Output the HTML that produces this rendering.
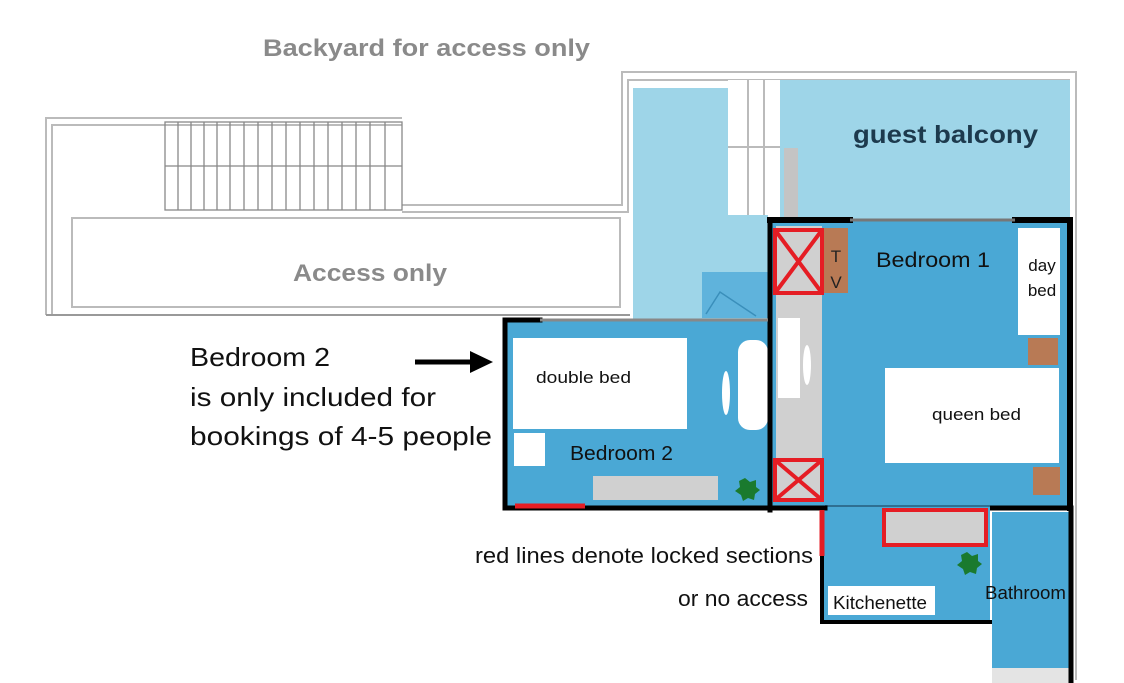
<!DOCTYPE html>
<html><head><style>
body{margin:0;background:#fff;width:1124px;height:683px;overflow:hidden}
svg{display:block}
text{font-family:"Liberation Sans",sans-serif}
</style></head><body>
<svg width="1124" height="683" viewBox="0 0 1124 683" xmlns="http://www.w3.org/2000/svg">
<g fill="none" stroke="#bbb" stroke-width="2">
<path d="M46 315 V118 H402"/>
<path d="M52 315 V125 H402"/>
<path d="M402 205 H622 V72 H1076 V680"/>
<path d="M402 212 H628 V80 H1070"/>
<rect x="72" y="218" width="548" height="89"/>
</g>
<g stroke="#888" stroke-width="1.3">
<rect x="165" y="122" width="237" height="88" fill="none"/>
<line x1="165" y1="166" x2="402" y2="166"/>
<line x1="178" y1="122" x2="178" y2="210"/><line x1="191" y1="122" x2="191" y2="210"/>
<line x1="204" y1="122" x2="204" y2="210"/><line x1="217" y1="122" x2="217" y2="210"/>
<line x1="230" y1="122" x2="230" y2="210"/><line x1="244" y1="122" x2="244" y2="210"/>
<line x1="258" y1="122" x2="258" y2="210"/><line x1="272" y1="122" x2="272" y2="210"/>
<line x1="286" y1="122" x2="286" y2="210"/><line x1="300" y1="122" x2="300" y2="210"/>
<line x1="314" y1="122" x2="314" y2="210"/><line x1="328" y1="122" x2="328" y2="210"/>
<line x1="342" y1="122" x2="342" y2="210"/><line x1="356" y1="122" x2="356" y2="210"/>
<line x1="370" y1="122" x2="370" y2="210"/><line x1="385" y1="122" x2="385" y2="210"/>
</g>
<line x1="46" y1="315" x2="630" y2="315" stroke="#999" stroke-width="2"/>
<text x="263" y="56" font-size="24" font-weight="bold" fill="#8a8a8a" textLength="327" lengthAdjust="spacingAndGlyphs">Backyard for access only</text>
<text x="293" y="281" font-size="24" font-weight="bold" fill="#8a8a8a" textLength="154" lengthAdjust="spacingAndGlyphs">Access only</text>
<rect x="633" y="88" width="135" height="232" fill="#9ed5e8"/>
<rect x="780" y="80" width="290" height="140" fill="#9ed5e8"/>
<rect x="728" y="80" width="52" height="135" fill="#fff"/>
<g stroke="#bbb" stroke-width="2"><line x1="748" y1="80" x2="748" y2="215"/><line x1="764" y1="80" x2="764" y2="215"/><line x1="728" y1="147" x2="780" y2="147"/></g>
<rect x="784" y="148" width="14" height="72" fill="#c4c4c4"/>
<text x="853" y="143" font-size="25" font-weight="bold" fill="#1d3a4d" textLength="185" lengthAdjust="spacingAndGlyphs">guest balcony</text>
<rect x="770" y="220" width="300" height="288" fill="#4aa8d5"/>
<rect x="776" y="226" width="46" height="275" fill="#d0d0d0"/>
<rect x="778" y="318" width="22" height="80" fill="#fff"/>
<ellipse cx="807" cy="365" rx="4" ry="20" fill="#fff"/>
<rect x="823" y="228" width="25" height="65" fill="#b87a55"/>
<text x="836" y="262" text-anchor="middle" font-size="17" fill="#222">T</text>
<text x="836" y="288" text-anchor="middle" font-size="17" fill="#222">V</text>
<rect x="1018" y="228" width="42" height="107" fill="#fff"/>
<text x="1042" y="271" text-anchor="middle" font-size="17" fill="#111">day</text>
<text x="1042" y="296" text-anchor="middle" font-size="17" fill="#111">bed</text>
<rect x="1028" y="338" width="30" height="27" fill="#b87a55"/>
<rect x="1033" y="467" width="27" height="28" fill="#b87a55"/>
<rect x="885" y="368" width="174" height="95" fill="#fff"/>
<text x="932" y="420" font-size="17" fill="#111" textLength="89" lengthAdjust="spacingAndGlyphs">queen bed</text>
<text x="876" y="267" font-size="21" fill="#111" textLength="114" lengthAdjust="spacingAndGlyphs">Bedroom 1</text>
<rect x="505" y="320" width="268" height="188" fill="#4aa8d5"/>
<rect x="702" y="272" width="66" height="46" fill="#5fb3dc"/>
<path d="M706 314 L720 292 L756 316" fill="none" stroke="#3a8fbb" stroke-width="1.5"/>
<rect x="513" y="338" width="174" height="91" fill="#fff"/>
<text x="536" y="383" font-size="17" fill="#111" textLength="95" lengthAdjust="spacingAndGlyphs">double bed</text>
<rect x="514" y="433" width="31" height="33" fill="#fff"/>
<rect x="593" y="476" width="125" height="24" fill="#d0d0d0"/>
<rect x="738" y="340" width="30" height="90" rx="12" fill="#fff"/>
<ellipse cx="726" cy="393" rx="4" ry="22" fill="#fff"/>
<text x="570" y="460" font-size="20" fill="#111" textLength="103" lengthAdjust="spacingAndGlyphs">Bedroom 2</text>
<polygon points="745,478 750,482 756,480 756,487 760,490 755,494 754,500 748,498 743,501 741,495 735,491 740,487 739,481" fill="#1a7a2e"/>
<rect x="822" y="508" width="168" height="114" fill="#4aa8d5"/>
<rect x="992" y="512" width="78" height="156" fill="#4aa8d5"/>
<rect x="992" y="668" width="78" height="15" fill="#e4e4e4"/>
<line x1="825" y1="506" x2="990" y2="506" stroke="#2f6f92" stroke-width="2"/>
<line x1="990" y1="508" x2="1070" y2="508" stroke="#000" stroke-width="5"/>
<rect x="884" y="510" width="102" height="35" fill="#d0d0d0" stroke="#e51d24" stroke-width="4"/>
<polygon points="967,552 972,556 978,554 978,561 982,564 977,568 976,574 970,572 965,575 963,569 957,565 962,561 961,555" fill="#1a7a2e"/>
<rect x="828" y="586" width="107" height="29" fill="#fff"/>
<text x="833" y="609" font-size="18" fill="#111" textLength="94" lengthAdjust="spacingAndGlyphs">Kitchenette</text>
<text x="985" y="599" font-size="18" fill="#111" textLength="81" lengthAdjust="spacingAndGlyphs">Bathroom</text>
<g stroke="#000" stroke-linecap="square">
<path d="M770 220 H850 M1015 220 H1070 V508" stroke-width="6" fill="none"/>
<line x1="770" y1="220" x2="770" y2="510" stroke-width="5"/>
<path d="M505 320 V508 H825" stroke-width="5" fill="none"/>
<line x1="505" y1="320" x2="540" y2="320" stroke-width="5"/>
<line x1="1071" y1="508" x2="1071" y2="683" stroke-width="5"/>
<path d="M822 520 V622 H990" stroke-width="4" fill="none"/>
</g>
<line x1="850" y1="220" x2="1015" y2="220" stroke="#777" stroke-width="3"/>
<line x1="540" y1="320" x2="768" y2="320" stroke="#888" stroke-width="3"/>
<line x1="515" y1="506" x2="585" y2="506" stroke="#e51d24" stroke-width="5"/>
<line x1="822" y1="510" x2="822" y2="556" stroke="#e51d24" stroke-width="5"/>
<g fill="none" stroke="#e51d24" stroke-width="4">
<rect x="775" y="230" width="47" height="63"/><path d="M775 230 L822 293 M822 230 L775 293"/>
<rect x="775" y="460" width="47" height="40"/><path d="M775 460 L822 500 M822 460 L775 500"/>
</g>
<text x="190" y="366" font-size="26" fill="#111" textLength="140" lengthAdjust="spacingAndGlyphs">Bedroom 2</text>
<text x="190" y="406" font-size="26" fill="#111" textLength="246" lengthAdjust="spacingAndGlyphs">is only included for</text>
<text x="190" y="445" font-size="26" fill="#111" textLength="302" lengthAdjust="spacingAndGlyphs">bookings of 4-5 people</text>
<line x1="415" y1="362" x2="475" y2="362" stroke="#000" stroke-width="5"/>
<polygon points="470,351 493,362 470,373" fill="#000"/>
<text x="475" y="563" font-size="22" fill="#111" textLength="338" lengthAdjust="spacingAndGlyphs">red lines denote locked sections</text>
<text x="678" y="606" font-size="22" fill="#111" textLength="130" lengthAdjust="spacingAndGlyphs">or no access</text>
</svg>
</body></html>
